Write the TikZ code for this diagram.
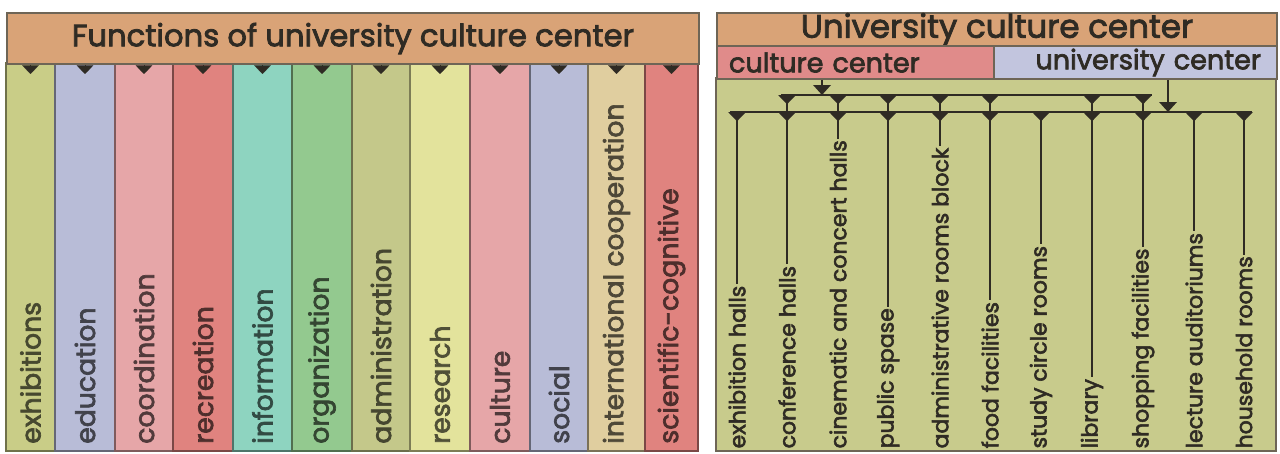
\documentclass[tikz,border=0pt]{standalone}
\usepackage{fontspec}
\setmainfont{Poppins}
\usetikzlibrary{arrows.meta}
\definecolor{headtan}{HTML}{D9A377}
\definecolor{frame}{HTML}{6E6556}
\definecolor{ink}{HTML}{2F2B24}
\definecolor{cyellow}{HTML}{C9CD87}
\definecolor{clav}{HTML}{B8BCD7}
\definecolor{cpink}{HTML}{E6A6A8}
\definecolor{cred}{HTML}{E0837F}
\definecolor{cteal}{HTML}{8ED4C0}
\definecolor{cgreen}{HTML}{93C98F}
\definecolor{colive}{HTML}{C4C88A}
\definecolor{cpale}{HTML}{E3E39C}
\definecolor{ctan}{HTML}{E0CE9F}
\definecolor{body}{HTML}{C8CB8C}
\definecolor{subred}{HTML}{E08B8A}
\definecolor{sublav}{HTML}{C2C5DE}
\newcommand{\heavy}{\addfontfeatures{FakeBold=2.5}}
\newcommand{\headsize}{\fontsize{23}{26}\selectfont\heavy}
\newcommand{\bigheadsize}{\fontsize{24.4}{27}\selectfont\heavy}
\newcommand{\subsize}{\fontsize{20.3}{23}\selectfont\heavy}
\newcommand{\funcsize}{\fontsize{20}{23}\selectfont\heavy}
\newcommand{\roomsize}{\fontsize{16.5}{20}\selectfont\heavy}
\tikzset{
	box/.style={draw=frame, line width=1.5pt, inner sep=0pt, text=ink},
	func/.style={rotate=90, anchor=west, inner sep=0pt, font=\funcsize},
	room/.style={rotate=90, anchor=west, inner sep=1pt, font=\roomsize, text=ink},
	tick/.style={-{Triangle[width=12.5pt, length=6.5pt]}, line width=0.1pt, ink},
	branch/.style={{Triangle[reversed, width=13pt, length=7pt]}-, line width=2pt, draw=ink},
	feed/.style={-{Triangle[width=13pt, length=7.5pt]}, line width=2pt, draw=ink},
	bar/.style={line width=2pt, draw=ink},
}

\begin{document}
\begin{tikzpicture}[x=0.75pt, y=-0.75pt]
	\useasboundingbox (0,0) rectangle (1280,453);
	% functions
	\foreach \a/\b/\c/\t/\n in {6/55/cyellow/exhibitions/exh, 55/115/clav/education/edu, 115/173/cpink/coordination/coord, 173/233/cred/recreation/recr, 233/292/cteal/information/info, 292/352/cgreen/organization/org, 352/410/colive/administration/admin, 410/470/cpale/research/res, 470/530/cpink/culture/cultr, 530/588/clav/social/soc, 588/645/ctan/international cooperation/intl, 645/698/cred/scientific-cognitive/sci}{
		\draw[fill=\c, draw=\c!55!black, line width=1.2pt] (\a,63) rectangle (\b,451);
		\node[func, text=\c!35!black] (\n) at ({(\a+\b)/2},444) {\t};
	}
	\node[box, fill=headtan, anchor=north west, minimum width=519pt, minimum height=38.25pt, font=\headsize] (fhead) at (6,12) {Functions of university culture center};
	\foreach \n in {exh, edu, coord, recr, info, org, admin, res, cultr, soc, intl, sci}
		\draw[tick] (fhead.south -| \n.center) -- ++(0,9);
	% centers
	\draw[box, fill=body] (716,78) rectangle (1276,451);
	\node[box, fill=headtan, anchor=north west, minimum width=420pt, minimum height=24.75pt, font=\bigheadsize] (uhead) at (716,12) {University culture center};
	\node[box, fill=subred, anchor=north west, minimum height=24.75pt, text width=189.75pt, inner xsep=9pt, align=left, font=\subsize] (ccenter) at (716,45) {culture center};
	\node[box, fill=sublav, anchor=north west, minimum height=24.75pt, text width=188.25pt, inner xsep=12pt, align=right, font=\subsize] (ucenter) at (993,45) {university center};
	\foreach \x/\t/\n in {737/exhibition halls/hall, 787/conference halls/conf, 838/cinematic and concert halls/cine, 888/public spase/pub, 940/administrative rooms block/adm, 990/food facilities/food, 1041/study circle rooms/study, 1092/library/lib, 1143/shopping facilities/shop, 1194/lecture auditoriums/lect, 1244/household rooms/house}
		\node[room] (\n) at (\x,450) {\t};
	\coordinate (ubarL) at (781,95);
	\coordinate (ubarR) at (1152,95);
	\coordinate (lbarL) at (730,112);
	\coordinate (lbarR) at (1252,112);
	\draw[bar] (ubarL) -- (ubarR);
	\draw[bar] (lbarL) -- (lbarR);
	\foreach \n in {hall, conf, cine, pub, adm, food, study, lib, shop, lect, house}
		\draw[branch] (\n.east |- lbarL) -- (\n.east);
	\foreach \n in {conf, cine, pub, adm, food, lib, shop}
		\draw[branch] (\n.east |- ubarL) -- (\n.east |- lbarL);
	\coordinate (cin) at (822,95);
	\coordinate (uin) at (1168,112);
	\draw[feed] (ccenter.south -| cin) -- (cin);
	\draw[feed] (ucenter.south -| uin) -- (uin);
\end{tikzpicture}
\end{document}
